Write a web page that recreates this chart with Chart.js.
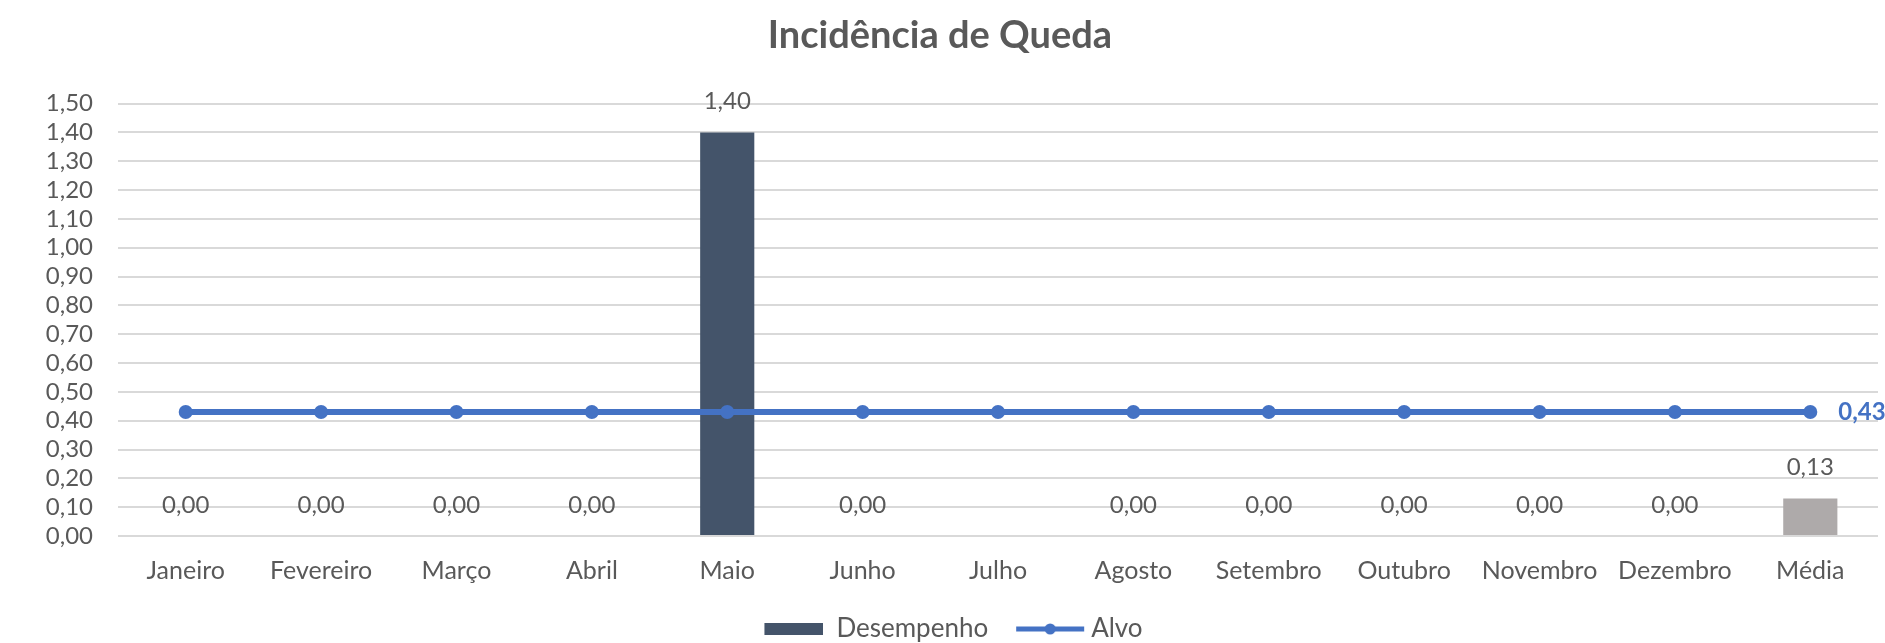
<!DOCTYPE html>
<html>
<head>
<meta charset="utf-8">
<script src="https://cdn.jsdelivr.net/npm/chart.js@4/dist/chart.umd.min.js"></script>
<style>
  html, body { margin: 0; padding: 0; background: #ffffff; }
  #wrap { width: 1885px; height: 643px; }
</style>
</head>
<body>
<div id="wrap"><canvas id="myChart"></canvas></div>
<script>
// data
const months = ["Janeiro", "Fevereiro", "Março", "Abril", "Maio", "Junho", "Julho",
  "Agosto", "Setembro", "Outubro", "Novembro", "Dezembro", "Média"];
const desempenho = [0, 0, 0, 0, 1.40, 0, null, 0, 0, 0, 0, 0, 0.13];
const alvo = [0.43, 0.43, 0.43, 0.43, 0.43, 0.43, 0.43, 0.43, 0.43, 0.43, 0.43, 0.43, 0.43];
const yTicks = [0, 0.1, 0.2, 0.3, 0.4, 0.5, 0.6, 0.7, 0.8, 0.9, 1.0, 1.1, 1.2, 1.3, 1.4, 1.5];

const barColor = "#44546a";
const avgColor = "#aeaaaa";
const lineColor = "#4472c4";
const textColor = "#595959";
const fontFamily = "Lato, 'Open Sans', sans-serif";

function fmt(v) {
  return v.toFixed(2).replace(".", ",");
}

// legend symbols
function makeSymbol(kind) {
  const c = document.createElement("canvas");
  c.width = kind === "bar" ? 86 : 102;
  c.height = 16;
  const g = c.getContext("2d");
  if (kind === "bar") {
    g.fillStyle = barColor;
    g.fillRect(27, 2, 59, 12);
  } else {
    g.strokeStyle = lineColor;
    g.lineWidth = 5;
    g.beginPath();
    g.moveTo(32, 8);
    g.lineTo(100, 8);
    g.stroke();
    g.fillStyle = lineColor;
    g.beginPath();
    g.arc(66, 8, 5.5, 0, Math.PI * 2);
    g.fill();
  }
  return c;
}
const barSymbol = makeSymbol("bar");
const lineSymbol = makeSymbol("line");

const valueLabels = {
  id: "valueLabels",
  afterDatasetsDraw(chart) {
    const ctx = chart.ctx;
    ctx.save();
    ctx.textBaseline = "middle";
    // bar labels
    const barMeta = chart.getDatasetMeta(0);
    ctx.font = "24px " + fontFamily;
    ctx.fillStyle = textColor;
    ctx.textAlign = "center";
    barMeta.data.forEach((el, i) => {
      const v = desempenho[i];
      if (v === null || v === undefined) return;
      ctx.fillText(fmt(v), el.x, el.y - 31);
    });
    // last target label
    const lineMeta = chart.getDatasetMeta(1);
    const last = lineMeta.data[lineMeta.data.length - 1];
    ctx.font = "bold 24px " + fontFamily;
    ctx.fillStyle = lineColor;
    ctx.textAlign = "left";
    ctx.fillText(fmt(alvo[alvo.length - 1]), last.x + 28, last.y);
    ctx.restore();
  }
};

const data = {
  labels: months,
  datasets: [
    {
      type: "bar",
      label: "Desempenho",
      data: desempenho,
      backgroundColor: months.map((m, i) => i === months.length - 1 ? avgColor : barColor),
      barPercentage: 0.4,
      categoryPercentage: 1.0,
      order: 1
    },
    {
      type: "line",
      label: "Alvo",
      data: alvo,
      borderColor: lineColor,
      backgroundColor: lineColor,
      borderWidth: 6,
      pointRadius: 7,
      pointHoverRadius: 7,
      pointBackgroundColor: lineColor,
      pointBorderWidth: 0,
      order: 0
    }
  ]
};

const config = {
  data: data,
  plugins: [valueLabels],
  options: {
    responsive: true,
    maintainAspectRatio: false,
    animation: false,
    layout: { padding: { left: 0, right: 5, top: 0, bottom: -9 } },
    plugins: {
      title: {
        display: true,
        text: "Incidência de Queda",
        color: textColor,
        font: { family: fontFamily, size: 38, weight: "bold" },
        padding: { top: 13, bottom: 45 }
      },
      legend: {
        position: "bottom",
        labels: {
          usePointStyle: true,
          pointStyleWidth: 86,
          boxHeight: 16,
          padding: 4,
          color: textColor,
          font: { family: fontFamily, size: 26 },
          generateLabels: () => [
            { text: "Desempenho", pointStyle: barSymbol, fillStyle: barColor, strokeStyle: barColor, lineWidth: 0, datasetIndex: 0, fontColor: textColor },
            { text: "Alvo", pointStyle: lineSymbol, fillStyle: lineColor, strokeStyle: lineColor, lineWidth: 0, datasetIndex: 1, fontColor: textColor }
          ]
        }
      },
      tooltip: { enabled: false }
    },
    scales: {
      x: {
        grid: { display: false, drawTicks: false },
        border: { display: false },
        ticks: {
          color: textColor,
          font: { family: fontFamily, size: 25 },
          padding: 20,
          maxRotation: 0,
          autoSkip: false
        },
        afterFit(scale) { scale.height = 76; }
      },
      y: {
        min: 0,
        max: 1.5,
        afterBuildTicks(scale) {
          scale.ticks = yTicks.map(v => ({ value: v }));
        },
        grid: { color: "#d9d9d9", lineWidth: 2, drawTicks: false },
        border: { display: false },
        ticks: {
          color: textColor,
          font: { family: fontFamily, size: 24 },
          padding: 25,
          autoSkip: false,
          callback: (v) => fmt(v)
        },
        afterFit(scale) { scale.width = 118; }
      }
    }
  }
};

const ctx = document.getElementById("myChart");
const myChart = new Chart(ctx, config);
</script>
</body>
</html>
